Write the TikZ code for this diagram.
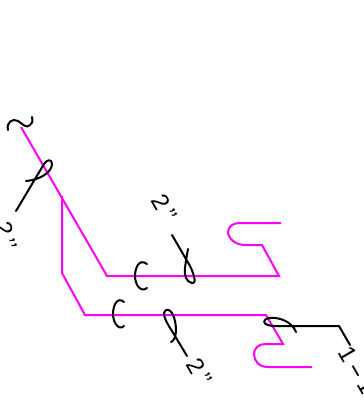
\documentclass[tikz,border=0pt]{standalone}
\usepackage{fontspec}
\setmainfont{Liberation Sans}
\tikzset{
  pipe/.style={draw={rgb,255:red,255;green,0;blue,255},line width=2pt,line join=miter},
  ink/.style={draw=black,line width=2pt,line cap=round,line join=round},
  lab/.style={inner sep=0pt,font=\fontsize{24}{24}\selectfont,text=black,anchor=center}
}
\begin{document}
\begin{tikzpicture}[x=1pt,y=-1pt]
\useasboundingbox (0,0) rectangle (363,403);
\clip (0,0) rectangle (363,403);
% pipes
\draw[pipe] (21,127) -- (107,276) -- (279,276) -- (262,245) -- (245,245)
  .. controls (235,245) and (228,238) .. (228,232)
  .. controls (228,227) and (233,223) .. (239,223) -- (281,223);
\draw[pipe] (62,196) -- (62,273) -- (85,315) -- (266,315) -- (283,344) -- (265,344)
  .. controls (258,344) and (254,349) .. (254,354)
  .. controls (254,361) and (259,367) .. (268,367) -- (312,367);
% tilde
\draw[ink] (8,130) .. controls (6,122) and (13,118) .. (18,121)
  .. controls (23,124) and (26,129) .. (30,125) .. controls (33,122) and (33,120) .. (32,117);
% leader 1
\coordinate (a1) at (16,211);
\draw[ink] (a1) -- (44,164) .. controls (47,159) and (52,159) .. (52,164)
  .. controls (52,172) and (40,180) .. (26,181);
% leader 2
\draw[ink] (172,235) -- (190,266) .. controls (192,270) and (198,284) .. (192,283)
  .. controls (186,282) and (184,275) .. (185,268) .. controls (186,260) and (187,254) .. (188,249);
% leader 3
\draw[ink] (187,356) -- (172,331) .. controls (166,322) and (161,312) .. (166,310)
  .. controls (172,308) and (176,320) .. (176,330) .. controls (176,336) and (174,341) .. (171,342);
% leader 4
\draw[ink] (296,332) .. controls (292,322) and (280,317) .. (270,318)
  .. controls (262,319) and (263,324) .. (268,325) .. controls (274,327) and (285,326) .. (290,326)
  -- (339,326) -- (350,345);
% C marks
\draw[ink] (147,264) .. controls (139,258) and (135,268) .. (135,276)
  .. controls (135,285) and (141,293) .. (147,288);
\draw[ink] (124,302) .. controls (117,296) and (113,306) .. (113,314)
  .. controls (113,323) and (119,331) .. (124,326);
% labels
\node[lab,rotate=-75] (t1) at (6,236) {2\,’’};
\node[lab,rotate=-60] (t2) at (165,208) {2\,’’};
\node[lab,rotate=-60] (t3) at (200,372) {2\,’’};
\node[lab,rotate=-60,anchor=west] (t4) at (345,348) {1\,\scalebox{2}[1]{-}\,1};
\end{tikzpicture}
\end{document}
